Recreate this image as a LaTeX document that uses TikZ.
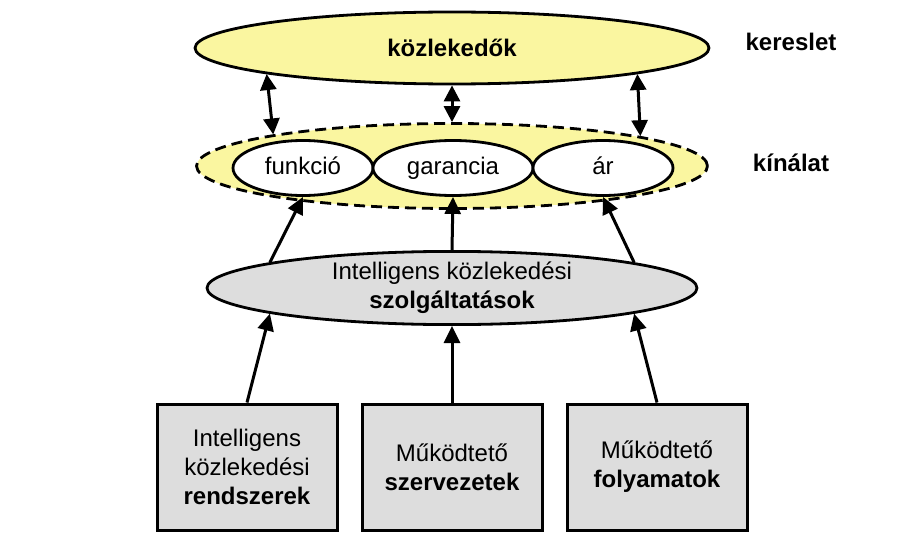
\documentclass[tikz,border=0pt]{standalone}
\usepackage{fontspec}
\setmainfont{Liberation Sans}
\usetikzlibrary{shapes.geometric,arrows.meta}
\definecolor{paleyellow}{RGB}{250,246,160}
\definecolor{boxgray}{RGB}{221,221,221}

\begin{document}
\begin{tikzpicture}[x=1pt,y=-1pt,
  every node/.style={font=\fontsize{24}{29}\selectfont},
  oval/.style={ellipse,draw,line width=2.8pt,inner sep=0pt},
  item/.style={oval,fill=white,minimum height=55,text height=17pt,text depth=5pt},
  box/.style={rectangle,draw,line width=3pt,fill=boxgray,align=center,
    minimum width=180,minimum height=126},
  link/.style={-{Triangle[length=17pt,width=16pt]},line width=3pt},
  twoway/.style={{Triangle[length=16pt,width=16pt]}-{Triangle[length=16pt,width=16pt]},line width=3pt}]
\useasboundingbox (0,0) rectangle (908,543);
\node [oval,fill=paleyellow,minimum width=514,minimum height=72] (demand) at (452,48) {\textbf{közlekedők}};
\node (kereslet) at (791,42) {\textbf{kereslet}};
\node [oval,fill=paleyellow,dash pattern=on 11pt off 6pt,minimum width=511,minimum height=85] (supply) at (452,166) {};
\node (kinalat) at (791,163) {\textbf{kínálat}};
\node [item,minimum width=140] (function) at (303,168) {funkció};
\node [item,minimum width=160] (guarantee) at (453,168) {garancia};
\node [item,minimum width=140] (price) at (603,168) {ár};
\node [oval,fill=boxgray,align=center,minimum width=490,minimum height=72] (services) at (452,288) {Intelligens közlekedési\\\textbf{szolgáltatások}};
\node [box] (systems) at (247,467) {Intelligens\\közlekedési\\\textbf{rendszerek}};
\node [box] (operators) at (452,467) {Működtető\\\textbf{szervezetek}};
\node [box] (processes) at (657,467) {Működtető\\\textbf{folyamatok}};
\draw [twoway] (demand.-172) -- (supply.170.6);
\draw [twoway] (demand.south) -- (supply.north);
\draw [twoway] (demand.-8) -- (supply.9.4);
\draw [link] (services.172) -- (function.south);
\draw [link] (services.north) -- (guarantee.south);
\draw [link] (services.8) -- (price.south);
\draw [link] (systems.north) -- (services.-172);
\draw [link] (operators.north) -- (services.south);
\draw [link] (processes.north) -- (services.-8);
\end{tikzpicture}
\end{document}
